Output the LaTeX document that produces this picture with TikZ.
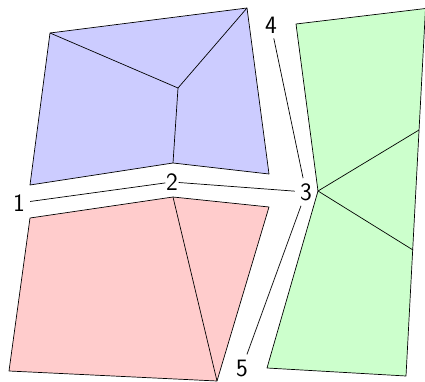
\documentclass[tikz,border=0pt]{standalone}
\usepackage{xcolor}
\usepackage{tikz}

\begin{document}
\begin{tikzpicture}[x=1pt,y=-1pt]
  \tikzstyle{face}=[draw,line width=0.7pt,line join=round]
  \tikzstyle{inner edge}=[line width=0.7pt]
  \tikzstyle{vertex label}=[inner sep=5pt,font=\sffamily\fontsize{25}{25}\selectfont]

  \useasboundingbox (0,0) rectangle (425,382);

    \coordinate (B1) at (50, 33);
    \coordinate (B2) at (247, 8);
    \coordinate (B3) at (269, 174);
    \coordinate (B4) at (173, 163);
    \coordinate (B5) at (30, 185);
    \coordinate (Bc) at (178, 88);

    \draw [face, fill = blue!20] (B1) -- (B2) -- (B3) -- (B4) -- (B5) -- cycle;
    \draw [inner edge] (B1) -- (Bc) -- (B2);
    \draw [inner edge] (Bc) -- (B4);

    \coordinate (R1) at (30, 218);
    \coordinate (R2) at (173, 197);
    \coordinate (R3) at (269, 207);
    \coordinate (R4) at (217, 381);
    \coordinate (R5) at (9, 371);

    \draw [face, fill = red!20] (R1) -- (R2) -- (R3) -- (R4) -- (R5) -- cycle;
    \draw [inner edge] (R2) -- (R4);

    \coordinate (G1) at (296, 24);
    \coordinate (G2) at (425.5, 8.5);
    \coordinate (G3) at (406, 376);
    \coordinate (G4) at (267, 368);
    \coordinate (G5) at (318, 191);
    \coordinate (Ga) at (419, 130);
    \coordinate (Gb) at (413, 250);

    \draw [face, fill = green!20] (G1) -- (G2) -- (G3) -- (G4) -- (G5) -- cycle;
    \draw [inner edge] (Ga) -- (G5) -- (Gb);

    \node [vertex label] (v1) at (19, 203) {1};
    \node [vertex label, inner sep=0.5pt] (v2) at (172, 182) {2};
    \node [vertex label] (v3) at (306, 192) {3};
    \node [vertex label] (v4) at (271, 25) {4};
    \node [vertex label] (v5) at (242, 368) {5};

    \draw [inner edge] (v1) -- (v2) -- (v3);
    \draw [inner edge] (v4) -- (v3) -- (v5);
\end{tikzpicture}
\end{document}
